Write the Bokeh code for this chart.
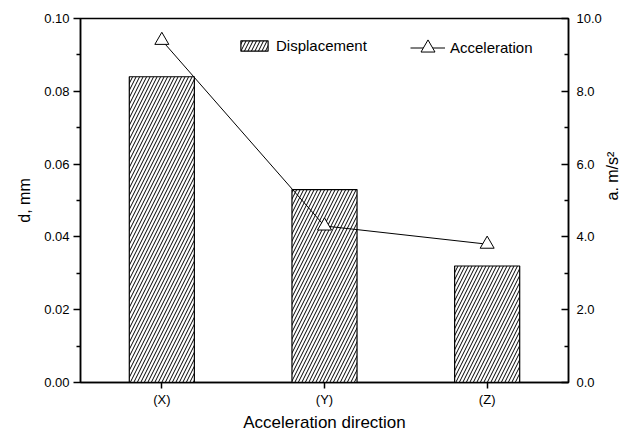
import math
from bokeh.plotting import figure
from bokeh.models import (ColumnDataSource, Range1d, FactorRange, LinearAxis,
                          FixedTicker, Legend, LegendItem, PrintfTickFormatter)
from bokeh.embed import file_html
from bokeh.resources import INLINE

# ---- data ----
directions = ["(X)", "(Y)", "(Z)"]
displacement = [0.084, 0.053, 0.032]      # d, mm
acceleration = [9.4, 4.3, 3.8]            # a, m/s^2
left_ticks = [0.00, 0.02, 0.04, 0.06, 0.08, 0.10]
left_minor = [0.01, 0.03, 0.05, 0.07, 0.09]
right_ticks = [0, 2, 4, 6, 8, 10]
right_minor = [1, 3, 5, 7, 9]

FONT = "Liberation Sans"
BLACK = "black"

src = ColumnDataSource(dict(x=directions, d=displacement, a=acceleration))

p = figure(frame_width=488, frame_height=364, output_backend="svg", toolbar_location=None,
           x_range=FactorRange(factors=directions, range_padding=0),
           y_range=Range1d(0, 0.10),
           min_border_left=80, min_border_top=18, min_border_right=10, min_border_bottom=10)
p.extra_y_ranges = {"acc": Range1d(0, 10)}

p.xgrid.visible = False
p.ygrid.visible = False
p.outline_line_color = BLACK
p.outline_line_width = 1.5
p.outline_line_alpha = 1
p.background_fill_color = "white"

bars = p.vbar(x="x", top="d", width=0.4, source=src, fill_color="white",
              line_color=BLACK, line_width=1.2, hatch_pattern="/",
              hatch_color=BLACK, hatch_weight=1, hatch_scale=7)
ln = p.line(x="x", y="a", source=src, y_range_name="acc", line_color=BLACK, line_width=1)
pts = p.scatter(x="x", y="a", source=src, y_range_name="acc", marker="triangle",
                size=14, fill_color="white", line_color=BLACK, line_width=1)


def style(ax):
    ax.axis_label_text_font = FONT
    ax.axis_label_text_font_size = "16px"
    ax.axis_label_text_font_style = "normal"
    ax.axis_label_text_color = BLACK
    ax.major_label_text_font = FONT
    ax.major_label_text_font_size = "13px"
    ax.major_label_text_color = BLACK
    ax.axis_line_width = 1.5
    ax.axis_line_color = BLACK
    ax.major_tick_line_width = 1.5
    ax.major_tick_line_color = BLACK
    ax.minor_tick_line_width = 1.5
    ax.minor_tick_line_color = BLACK


# x axis
xa = p.xaxis[0]
style(xa)
xa.axis_label = "Acceleration direction"
xa.axis_label_text_font_size = "17px"
xa.axis_label_standoff = 3
xa.major_label_standoff = 3
xa.major_tick_out = 6
xa.major_tick_in = 0

# left axis
ya = p.yaxis[0]
style(ya)
ya.ticker = FixedTicker(ticks=left_ticks, minor_ticks=left_minor)
ya.formatter = PrintfTickFormatter(format="%.2f")
ya.axis_label = "d, mm"
ya.axis_label_standoff = 8
ya.major_label_standoff = 4
ya.major_tick_out = 7
ya.major_tick_in = 0
ya.minor_tick_out = 4
ya.minor_tick_in = 0

# right axis
ra = LinearAxis(y_range_name="acc",
                ticker=FixedTicker(ticks=right_ticks, minor_ticks=right_minor),
                formatter=PrintfTickFormatter(format="%.1f"))
style(ra)
ra.axis_label = "a. m/s²"
ra.axis_label_orientation = math.pi / 2
ra.axis_label_standoff = 8
ra.major_label_standoff = 8
ra.major_tick_out = 0
ra.major_tick_in = 7
ra.minor_tick_out = 0
ra.minor_tick_in = 4
p.add_layout(ra, "right")

leg1 = Legend(items=[LegendItem(label="Displacement", renderers=[bars])],
              location=(157, 328), glyph_width=34, glyph_height=13, label_standoff=5,
              padding=0, margin=0, border_line_color=None, background_fill_alpha=0,
              label_text_font=FONT, label_text_font_size="15px", label_height=13,
              label_text_color=BLACK)
leg2 = Legend(items=[LegendItem(label="Acceleration", renderers=[ln, pts])],
              location=(330, 317), glyph_width=35, glyph_height=35, label_standoff=5,
              padding=0, margin=0, border_line_color=None, background_fill_alpha=0,
              label_text_font=FONT, label_text_font_size="15px", label_height=35,
              label_text_color=BLACK)
p.add_layout(leg1)
p.add_layout(leg2)

open("out.html", "w").write(file_html(p, INLINE))
